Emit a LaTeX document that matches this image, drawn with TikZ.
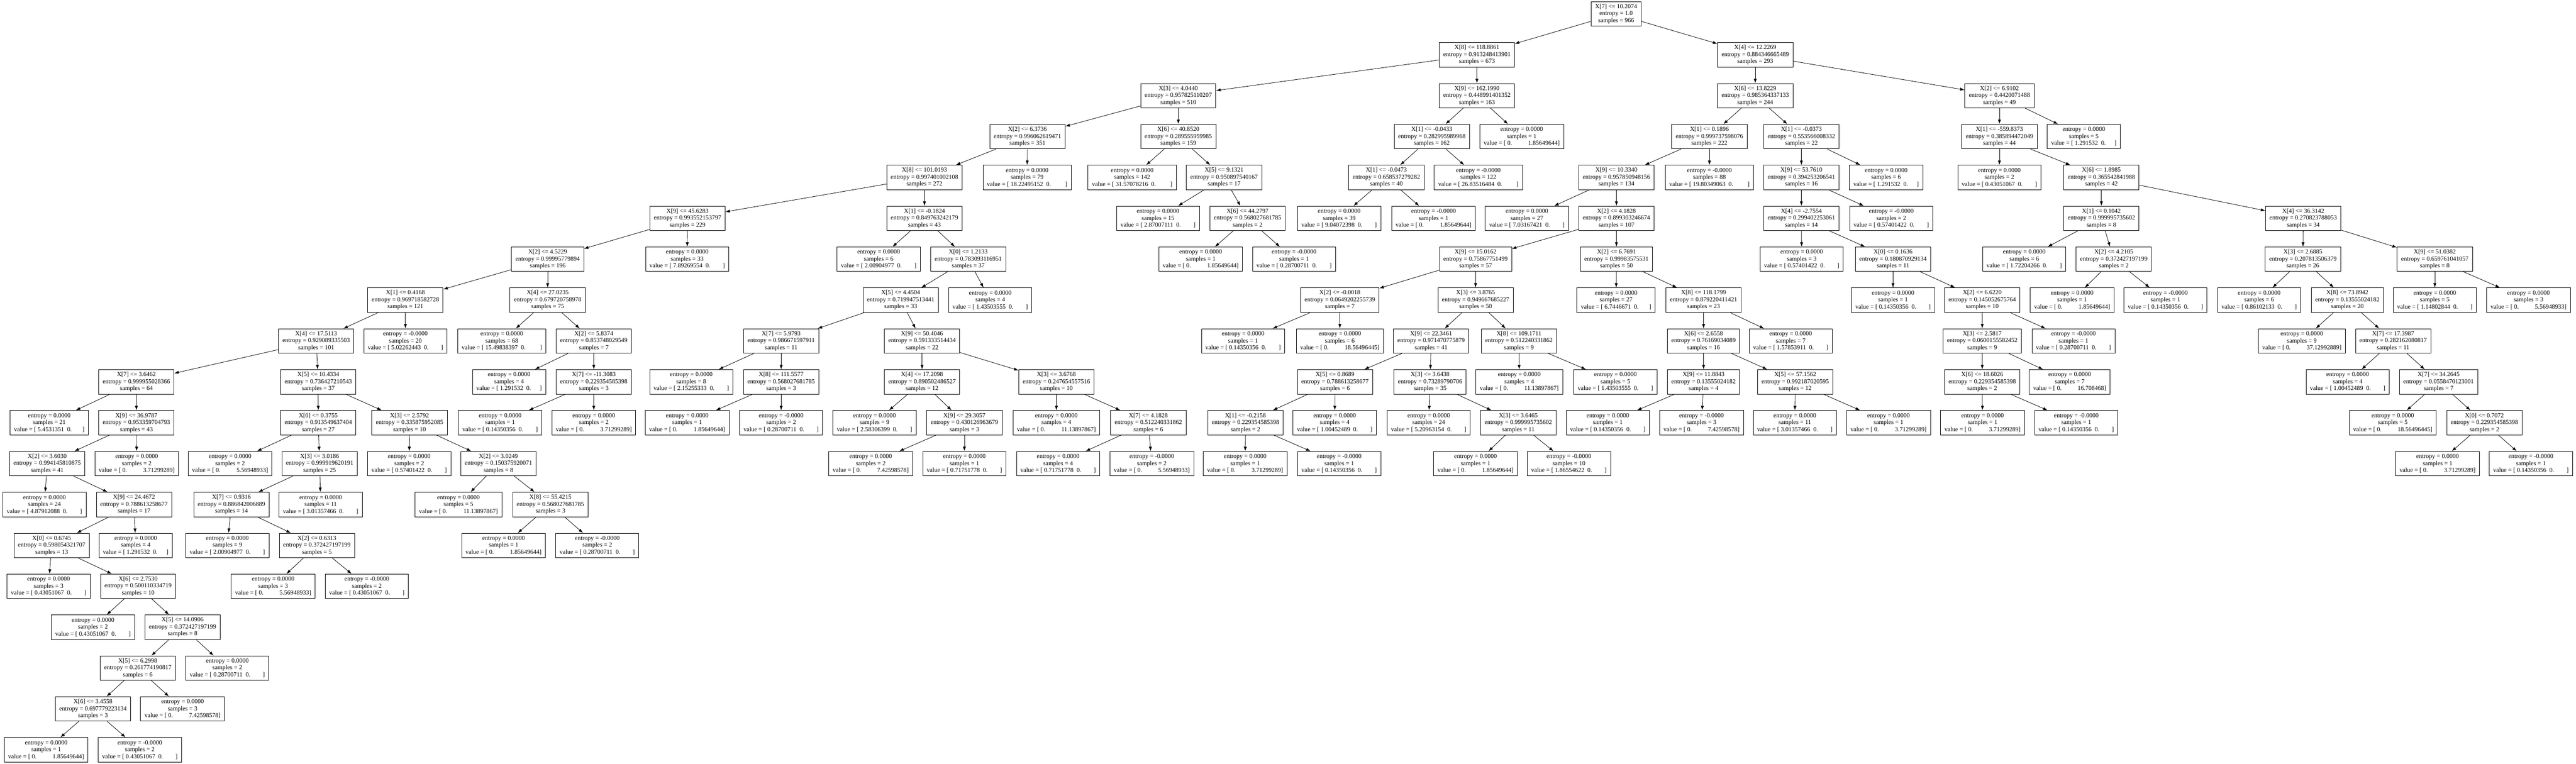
\documentclass[tikz,border=0pt]{standalone}
\usepackage{fontspec}
\setmainfont{Liberation Serif}
\usetikzlibrary{arrows.meta}

\newcommand{\cnd}[3]{#1\\entropy = #2\\samples = #3}
\newcommand{\zleaf}[4][2em]{entropy = #2\\samples = #3\\value = [ #4\hspace{.5em}0.\hspace{#1}]}
\newcommand{\oleaf}[3]{entropy = #1\\samples = #2\\value = [ 0.\hspace{2.6em}#3]}

\begin{document}
\begin{tikzpicture}[x=0.5pt, y=-59.35pt]
\tikzset{ >={Latex[length=6.5pt,width=4.5pt]}, box/.style={draw, line width=0.7pt, align=center, minimum height=35.5pt, inner xsep=5.75pt, inner ysep=0pt, font=\fontsize{9}{10.1}\selectfont}, branch/.style={->, line width=0.6pt} }

\useasboundingbox (0,-0.3412) rectangle (7479,18.336);

% root and left half
\node [box] (n0) at (4692,0) {\cnd{X[7] <= 10.2074}{1.0}{966}};
\node [box] (n1) at (4288,1) {\cnd{X[8] <= 118.8861}{0.913248413901}{673}};
\node [box] (n2) at (3421,2) {\cnd{X[3] <= 4.0440}{0.957825110207}{510}};
\node [box] (n3) at (2983,3) {\cnd{X[2] <= 6.3736}{0.996062619471}{351}};
\node [box] (n4) at (2684,4) {\cnd{X[8] <= 101.0193}{0.997401002108}{272}};
\node [box] (n5) at (1996,5) {\cnd{X[9] <= 45.6283}{0.993552153797}{229}};
\node [box] (n6) at (1590,6) {\cnd{X[2] <= 4.5229}{0.99995779894}{196}};
\node [box] (n7) at (1177,7) {\cnd{X[1] <= 0.4168}{0.969718582728}{121}};
\node [box] (n8) at (918,8) {\cnd{X[4] <= 17.5113}{0.929089335503}{101}};
\node [box] (n9) at (396,9) {\cnd{X[7] <= 3.6462}{0.999955028366}{64}};
\node [box] (n10) at (143,10) {\zleaf[1.7em]{0.0000}{21}{5.4531351}};
\node [box] (n11) at (396,10) {\cnd{X[9] <= 36.9787}{0.953359704793}{43}};
\node [box] (n12) at (137,11) {\cnd{X[2] <= 3.6030}{0.994145810875}{41}};
\node [box] (n13) at (129,12) {\zleaf{0.0000}{24}{4.87912088}};
\node [box] (n14) at (389,12) {\cnd{X[9] <= 24.4672}{0.788613258677}{17}};
\node [box] (n15) at (150,13) {\cnd{X[0] <= 0.6745}{0.598054321707}{13}};
\node [box] (n16) at (141,14) {\zleaf{0.0000}{3}{0.43051067}};
\node [box] (n17) at (401,14) {\cnd{X[6] <= 2.7530}{0.500110334719}{10}};
\node [box] (n18) at (270,15) {\zleaf{0.0000}{2}{0.43051067}};
\node [box] (n19) at (530,15) {\cnd{X[5] <= 14.0906}{0.372427197199}{8}};
\node [box] (n20) at (400,16) {\cnd{X[5] <= 6.2998}{0.261774190817}{6}};
\node [box] (n21) at (270,17) {\cnd{X[6] <= 3.4558}{0.697779223134}{3}};
\node [box] (n22) at (134,18) {\oleaf{0.0000}{1}{1.85649644}};
\node [box] (n23) at (406,18) {\zleaf{-0.0000}{2}{0.43051067}};
\node [box] (n24) at (530,17) {\oleaf{0.0000}{3}{7.42598578}};
\node [box] (n25) at (660,16) {\zleaf{0.0000}{2}{0.28700711}};
\node [box] (n26) at (394,13) {\zleaf[1.4em]{0.0000}{4}{1.291532}};
\node [box] (n27) at (397,11) {\oleaf{0.0000}{2}{3.71299289}};
\node [box] (n28) at (924,9) {\cnd{X[5] <= 10.4334}{0.736427210543}{37}};
\node [box] (n29) at (924,10) {\cnd{X[0] <= 0.3755}{0.913549637404}{27}};
\node [box] (n30) at (668,11) {\oleaf{0.0000}{2}{5.56948933}};
\node [box] (n31) at (928,11) {\cnd{X[3] <= 3.0186}{0.999919620191}{25}};
\node [box] (n32) at (672,12) {\cnd{X[7] <= 0.9316}{0.886842006889}{14}};
\node [box] (n33) at (660,13) {\zleaf{0.0000}{9}{2.00904977}};
\node [box] (n34) at (920,13) {\cnd{X[2] <= 0.6313}{0.372427197199}{5}};
\node [box] (n35) at (793,14) {\oleaf{0.0000}{3}{5.56948933}};
\node [box] (n36) at (1065,14) {\zleaf{-0.0000}{2}{0.43051067}};
\node [box] (n37) at (931,12) {\zleaf{0.0000}{11}{3.01357466}};
\node [box] (n38) at (1189,10) {\cnd{X[3] <= 2.5792}{0.335875952085}{10}};
\node [box] (n39) at (1188,11) {\zleaf{0.0000}{2}{0.57401422}};
\node [box] (n40) at (1447,11) {\cnd{X[2] <= 3.0249}{0.150375920071}{8}};
\node [box] (n41) at (1331,12) {\oleaf{0.0000}{5}{11.13897867}};
\node [box] (n42) at (1598,12) {\cnd{X[8] <= 55.4215}{0.568027681785}{3}};
\node [box] (n43) at (1462,13) {\oleaf{0.0000}{1}{1.85649644}};
\node [box] (n44) at (1734,13) {\zleaf{-0.0000}{2}{0.28700711}};
\node [box] (n45) at (1177,8) {\zleaf{-0.0000}{20}{5.02262443}};
\node [box] (n46) at (1590,7) {\cnd{X[4] <= 27.0235}{0.679720758978}{75}};
\node [box] (n47) at (1457,8) {\zleaf[2.3em]{0.0000}{68}{15.49838397}};
\node [box] (n48) at (1724,8) {\cnd{X[2] <= 5.8374}{0.853748029549}{7}};
\node [box] (n49) at (1478,9) {\zleaf[1.4em]{0.0000}{4}{1.291532}};
\node [box] (n50) at (1724,9) {\cnd{X[7] <= -11.3083}{0.229354585398}{3}};
\node [box] (n51) at (1452,10) {\zleaf{0.0000}{1}{0.14350356}};
\node [box] (n52) at (1724,10) {\oleaf{0.0000}{2}{3.71299289}};
\node [box] (n53) at (1995,6) {\zleaf{0.0000}{33}{7.89269554}};
\node [box] (n54) at (2684,5) {\cnd{X[1] <= -0.1824}{0.849763242179}{43}};
\node [box] (n55) at (2551,6) {\zleaf{0.0000}{6}{2.00904977}};
\node [box] (n56) at (2811,6) {\cnd{X[0] <= 1.2133}{0.783093116951}{37}};
\node [box] (n57) at (2615,7) {\cnd{X[5] <= 4.4504}{0.719947513441}{33}};
\node [box] (n58) at (2268,8) {\cnd{X[7] <= 5.9793}{0.986671597911}{11}};
\node [box] (n59) at (2007,9) {\zleaf{0.0000}{8}{2.15255333}};
\node [box] (n60) at (2268,9) {\cnd{X[8] <= 111.5577}{0.568027681785}{3}};
\node [box] (n61) at (1995,10) {\oleaf{0.0000}{1}{1.85649644}};
\node [box] (n62) at (2268,10) {\zleaf{-0.0000}{2}{0.28700711}};
\node [box] (n63) at (2677,8) {\cnd{X[9] <= 50.4046}{0.591333514434}{22}};
\node [box] (n64) at (2677,9) {\cnd{X[4] <= 17.2098}{0.890502486527}{12}};
\node [box] (n65) at (2539,10) {\zleaf{0.0000}{9}{2.58306399}};
\node [box] (n66) at (2800,10) {\cnd{X[9] <= 29.3057}{0.430126963679}{3}};
\node [box] (n67) at (2528,11) {\oleaf{0.0000}{2}{7.42598578}};
\node [box] (n68) at (2800,11) {\zleaf{0.0000}{1}{0.71751778}};
\node [box] (n69) at (3067,9) {\cnd{X[3] <= 3.6768}{0.247654557516}{10}};
\node [box] (n70) at (3067,10) {\oleaf{0.0000}{4}{11.13897867}};
\node [box] (n71) at (3334,10) {\cnd{X[7] <= 4.1828}{0.512240331862}{6}};
\node [box] (n72) at (3072,11) {\zleaf{0.0000}{4}{0.71751778}};
\node [box] (n73) at (3344,11) {\oleaf{-0.0000}{2}{5.56948933}};
\node [box] (n74) at (2875,7) {\zleaf{0.0000}{4}{1.43503555}};
\node [box] (n75) at (2982,4) {\zleaf[2.3em]{0.0000}{79}{18.22495152}};
\node [box] (n76) at (3421,3) {\cnd{X[6] <= 40.8520}{0.289555959985}{159}};
\node [box] (n77) at (3287,4) {\zleaf[2.3em]{0.0000}{142}{31.57078216}};
\node [box] (n78) at (3554,4) {\cnd{X[5] <= 9.1321}{0.950897540167}{17}};
\node [box] (n79) at (3362,5) {\zleaf{0.0000}{15}{2.87007111}};
\node [box] (n80) at (3622,5) {\cnd{X[6] <= 44.2797}{0.568027681785}{2}};
\node [box] (n81) at (3486,6) {\oleaf{0.0000}{1}{1.85649644}};
\node [box] (n82) at (3757,6) {\zleaf{-0.0000}{1}{0.28700711}};
\node [box] (n83) at (4288,2) {\cnd{X[9] <= 162.1990}{0.448991401352}{163}};
\node [box] (n84) at (4157,3) {\cnd{X[1] <= -0.0433}{0.282995989968}{162}};
\node [box] (n85) at (4025,4) {\cnd{X[1] <= -0.0473}{0.658537279282}{40}};
\node [box] (n86) at (3888,5) {\zleaf{0.0000}{39}{9.04072398}};
\node [box] (n87) at (4162,5) {\oleaf{-0.0000}{1}{1.85649644}};
\node [box] (n88) at (4292,4) {\zleaf[2.3em]{-0.0000}{122}{26.83516484}};
\node [box] (n89) at (4418,3) {\oleaf{0.0000}{1}{1.85649644}};

% right half
\node [box] (n90) at (5096,1) {\cnd{X[4] <= 12.2269}{0.884346665489}{293}};
\node [box] (n91) at (5096,2) {\cnd{X[6] <= 13.8229}{0.985364337133}{244}};
\node [box] (n92) at (4963,3) {\cnd{X[1] <= 0.1896}{0.999737598076}{222}};
\node [box] (n93) at (4693,4) {\cnd{X[9] <= 10.3340}{0.957850948156}{134}};
\node [box] (n94) at (4433,5) {\zleaf{0.0000}{27}{7.03167421}};
\node [box] (n95) at (4693,5) {\cnd{X[2] <= 4.1828}{0.899303246674}{107}};
\node [box] (n96) at (4284,6) {\cnd{X[9] <= 15.0162}{0.75867751499}{57}};
\node [box] (n97) at (3890,7) {\cnd{X[2] <= -0.0018}{0.0649202255739}{7}};
\node [box] (n98) at (3609,8) {\zleaf{0.0000}{1}{0.14350356}};
\node [box] (n99) at (3890,8) {\oleaf{0.0000}{6}{18.56496445}};
\node [box] (n100) at (4284,7) {\cnd{X[3] <= 3.8765}{0.949667685227}{50}};
\node [box] (n101) at (4155,8) {\cnd{X[9] <= 22.3461}{0.971470775879}{41}};
\node [box] (n102) at (3876,9) {\cnd{X[5] <= 0.8689}{0.788613258677}{6}};
\node [box] (n103) at (3616,10) {\cnd{X[1] <= -0.2158}{0.229354585398}{2}};
\node [box] (n104) at (3615,11) {\oleaf{0.0000}{1}{3.71299289}};
\node [box] (n105) at (3888,11) {\zleaf{-0.0000}{1}{0.14350356}};
\node [box] (n106) at (3875,10) {\zleaf{0.0000}{4}{1.00452489}};
\node [box] (n107) at (4152,9) {\cnd{X[3] <= 3.6438}{0.73289790706}{35}};
\node [box] (n108) at (4148,10) {\zleaf{0.0000}{24}{5.20963154}};
\node [box] (n109) at (4408,10) {\cnd{X[3] <= 3.6465}{0.999995735602}{11}};
\node [box] (n110) at (4284,11) {\oleaf{0.0000}{1}{1.85649644}};
\node [box] (n111) at (4555,11) {\zleaf{-0.0000}{10}{1.86554622}};
\node [box] (n112) at (4410,8) {\cnd{X[8] <= 109.1711}{0.512240331862}{9}};
\node [box] (n113) at (4411,9) {\oleaf{0.0000}{4}{11.13897867}};
\node [box] (n114) at (4690,9) {\zleaf{0.0000}{5}{1.43503555}};
\node [box] (n115) at (4693,6) {\cnd{X[2] <= 6.7691}{0.99983575531}{50}};
\node [box] (n116) at (4692,7) {\zleaf[1.7em]{0.0000}{27}{6.7446671}};
\node [box] (n117) at (4946,7) {\cnd{X[8] <= 118.1799}{0.879220411421}{23}};
\node [box] (n118) at (4946,8) {\cnd{X[6] <= 2.6558}{0.76169034089}{16}};
\node [box] (n119) at (4946,9) {\cnd{X[9] <= 11.8843}{0.13555024182}{4}};
\node [box] (n120) at (4668,10) {\zleaf{0.0000}{1}{0.14350356}};
\node [box] (n121) at (4940,10) {\oleaf{-0.0000}{3}{7.42598578}};
\node [box] (n122) at (5212,9) {\cnd{X[5] <= 57.1562}{0.992187020595}{12}};
\node [box] (n123) at (5211,10) {\zleaf{0.0000}{11}{3.01357466}};
\node [box] (n124) at (5483,10) {\oleaf{0.0000}{1}{3.71299289}};
\node [box] (n125) at (5199,8) {\zleaf{0.0000}{7}{1.57853911}};
\node [box] (n126) at (4963,4) {\zleaf[2.3em]{-0.0000}{88}{19.80349063}};
\node [box] (n127) at (5230,3) {\cnd{X[1] <= -0.0373}{0.553566008332}{22}};
\node [box] (n128) at (5230,4) {\cnd{X[9] <= 53.7610}{0.394253206541}{16}};
\node [box] (n129) at (5230,5) {\cnd{X[4] <= -2.7554}{0.299402253061}{14}};
\node [box] (n130) at (5231,6) {\zleaf{0.0000}{3}{0.57401422}};
\node [box] (n131) at (5496,6) {\cnd{X[0] <= 0.1636}{0.180870929134}{11}};
\node [box] (n132) at (5496,7) {\zleaf{0.0000}{1}{0.14350356}};
\node [box] (n133) at (5755,7) {\cnd{X[2] <= 6.6220}{0.145052675764}{10}};
\node [box] (n134) at (5755,8) {\cnd{X[3] <= 2.5817}{0.0600155582452}{9}};
\node [box] (n135) at (5755,9) {\cnd{X[6] <= 18.6026}{0.229354585398}{2}};
\node [box] (n136) at (5756,10) {\oleaf{0.0000}{1}{3.71299289}};
\node [box] (n137) at (6028,10) {\zleaf{-0.0000}{1}{0.14350356}};
\node [box] (n138) at (6009,9) {\oleaf{0.0000}{7}{16.708468}};
\node [box] (n139) at (6020,8) {\zleaf{-0.0000}{1}{0.28700711}};
\node [box] (n140) at (5491,5) {\zleaf{-0.0000}{2}{0.57401422}};
\node [box] (n141) at (5476,4) {\zleaf[1.4em]{0.0000}{6}{1.291532}};
\node [box] (n142) at (5805,2) {\cnd{X[2] <= 6.9102}{0.4420071488}{49}};
\node [box] (n143) at (5805,3) {\cnd{X[1] <= -559.8373}{0.385894472049}{44}};
\node [box] (n144) at (5805,4) {\zleaf{0.0000}{2}{0.43051067}};
\node [box] (n145) at (6101,4) {\cnd{X[6] <= 1.8985}{0.365542841988}{42}};
\node [box] (n146) at (6101,5) {\cnd{X[1] <= 0.1042}{0.999995735602}{8}};
\node [box] (n147) at (5877,6) {\zleaf{0.0000}{6}{1.72204266}};
\node [box] (n148) at (6137,6) {\cnd{X[2] <= 4.2105}{0.372427197199}{2}};
\node [box] (n149) at (6016,7) {\oleaf{0.0000}{1}{1.85649644}};
\node [box] (n150) at (6287,7) {\zleaf{-0.0000}{1}{0.14350356}};
\node [box] (n151) at (6687,5) {\cnd{X[4] <= 36.3142}{0.270823788053}{34}};
\node [box] (n152) at (6686,6) {\cnd{X[3] <= 2.6885}{0.207813506379}{26}};
\node [box] (n153) at (6559,7) {\zleaf{0.0000}{6}{0.86102133}};
\node [box] (n154) at (6815,7) {\cnd{X[8] <= 73.8942}{0.13555024182}{20}};
\node [box] (n155) at (6683,8) {\oleaf{0.0000}{9}{37.12992889}};
\node [box] (n156) at (6948,8) {\cnd{X[7] <= 17.3987}{0.282162080817}{11}};
\node [box] (n157) at (6816,9) {\zleaf{0.0000}{4}{1.00452489}};
\node [box] (n158) at (7080,9) {\cnd{X[7] <= 34.2645}{0.0558470123001}{7}};
\node [box] (n159) at (6947,10) {\oleaf{0.0000}{5}{18.56496445}};
\node [box] (n160) at (7213,10) {\cnd{X[0] <= 0.7072}{0.229354585398}{2}};
\node [box] (n161) at (7077,11) {\oleaf{0.0000}{1}{3.71299289}};
\node [box] (n162) at (7348,11) {\zleaf{-0.0000}{1}{0.14350356}};
\node [box] (n163) at (7069,6) {\cnd{X[9] <= 51.0382}{0.659761041057}{8}};
\node [box] (n164) at (7069,7) {\zleaf{0.0000}{5}{1.14802844}};
\node [box] (n165) at (7341,7) {\oleaf{0.0000}{3}{5.56948933}};
\node [box] (n166) at (6050,3) {\zleaf[1.4em]{0.0000}{5}{1.291532}};

% edges
\draw [branch] (n0) -- (n1);
\draw [branch] (n0) -- (n90);
\draw [branch] (n1) -- (n2);
\draw [branch] (n1) -- (n83);
\draw [branch] (n2) -- (n3);
\draw [branch] (n2) -- (n76);
\draw [branch] (n3) -- (n4);
\draw [branch] (n3) -- (n75);
\draw [branch] (n4) -- (n5);
\draw [branch] (n4) -- (n54);
\draw [branch] (n5) -- (n6);
\draw [branch] (n5) -- (n53);
\draw [branch] (n6) -- (n7);
\draw [branch] (n6) -- (n46);
\draw [branch] (n7) -- (n8);
\draw [branch] (n7) -- (n45);
\draw [branch] (n8) -- (n9);
\draw [branch] (n8) -- (n28);
\draw [branch] (n9) -- (n10);
\draw [branch] (n9) -- (n11);
\draw [branch] (n11) -- (n12);
\draw [branch] (n11) -- (n27);
\draw [branch] (n12) -- (n13);
\draw [branch] (n12) -- (n14);
\draw [branch] (n14) -- (n15);
\draw [branch] (n14) -- (n26);
\draw [branch] (n15) -- (n16);
\draw [branch] (n15) -- (n17);
\draw [branch] (n17) -- (n18);
\draw [branch] (n17) -- (n19);
\draw [branch] (n19) -- (n20);
\draw [branch] (n19) -- (n25);
\draw [branch] (n20) -- (n21);
\draw [branch] (n20) -- (n24);
\draw [branch] (n21) -- (n22);
\draw [branch] (n21) -- (n23);
\draw [branch] (n28) -- (n29);
\draw [branch] (n28) -- (n38);
\draw [branch] (n29) -- (n30);
\draw [branch] (n29) -- (n31);
\draw [branch] (n31) -- (n32);
\draw [branch] (n31) -- (n37);
\draw [branch] (n32) -- (n33);
\draw [branch] (n32) -- (n34);
\draw [branch] (n34) -- (n35);
\draw [branch] (n34) -- (n36);
\draw [branch] (n38) -- (n39);
\draw [branch] (n38) -- (n40);
\draw [branch] (n40) -- (n41);
\draw [branch] (n40) -- (n42);
\draw [branch] (n42) -- (n43);
\draw [branch] (n42) -- (n44);
\draw [branch] (n46) -- (n47);
\draw [branch] (n46) -- (n48);
\draw [branch] (n48) -- (n49);
\draw [branch] (n48) -- (n50);
\draw [branch] (n50) -- (n51);
\draw [branch] (n50) -- (n52);
\draw [branch] (n54) -- (n55);
\draw [branch] (n54) -- (n56);
\draw [branch] (n56) -- (n57);
\draw [branch] (n56) -- (n74);
\draw [branch] (n57) -- (n58);
\draw [branch] (n57) -- (n63);
\draw [branch] (n58) -- (n59);
\draw [branch] (n58) -- (n60);
\draw [branch] (n60) -- (n61);
\draw [branch] (n60) -- (n62);
\draw [branch] (n63) -- (n64);
\draw [branch] (n63) -- (n69);
\draw [branch] (n64) -- (n65);
\draw [branch] (n64) -- (n66);
\draw [branch] (n66) -- (n67);
\draw [branch] (n66) -- (n68);
\draw [branch] (n69) -- (n70);
\draw [branch] (n69) -- (n71);
\draw [branch] (n71) -- (n72);
\draw [branch] (n71) -- (n73);
\draw [branch] (n76) -- (n77);
\draw [branch] (n76) -- (n78);
\draw [branch] (n78) -- (n79);
\draw [branch] (n78) -- (n80);
\draw [branch] (n80) -- (n81);
\draw [branch] (n80) -- (n82);
\draw [branch] (n83) -- (n84);
\draw [branch] (n83) -- (n89);
\draw [branch] (n84) -- (n85);
\draw [branch] (n84) -- (n88);
\draw [branch] (n85) -- (n86);
\draw [branch] (n85) -- (n87);
\draw [branch] (n90) -- (n91);
\draw [branch] (n90) -- (n142);
\draw [branch] (n91) -- (n92);
\draw [branch] (n91) -- (n127);
\draw [branch] (n92) -- (n93);
\draw [branch] (n92) -- (n126);
\draw [branch] (n93) -- (n94);
\draw [branch] (n93) -- (n95);
\draw [branch] (n95) -- (n96);
\draw [branch] (n95) -- (n115);
\draw [branch] (n96) -- (n97);
\draw [branch] (n96) -- (n100);
\draw [branch] (n97) -- (n98);
\draw [branch] (n97) -- (n99);
\draw [branch] (n100) -- (n101);
\draw [branch] (n100) -- (n112);
\draw [branch] (n101) -- (n102);
\draw [branch] (n101) -- (n107);
\draw [branch] (n102) -- (n103);
\draw [branch] (n102) -- (n106);
\draw [branch] (n103) -- (n104);
\draw [branch] (n103) -- (n105);
\draw [branch] (n107) -- (n108);
\draw [branch] (n107) -- (n109);
\draw [branch] (n109) -- (n110);
\draw [branch] (n109) -- (n111);
\draw [branch] (n112) -- (n113);
\draw [branch] (n112) -- (n114);
\draw [branch] (n115) -- (n116);
\draw [branch] (n115) -- (n117);
\draw [branch] (n117) -- (n118);
\draw [branch] (n117) -- (n125);
\draw [branch] (n118) -- (n119);
\draw [branch] (n118) -- (n122);
\draw [branch] (n119) -- (n120);
\draw [branch] (n119) -- (n121);
\draw [branch] (n122) -- (n123);
\draw [branch] (n122) -- (n124);
\draw [branch] (n127) -- (n128);
\draw [branch] (n127) -- (n141);
\draw [branch] (n128) -- (n129);
\draw [branch] (n128) -- (n140);
\draw [branch] (n129) -- (n130);
\draw [branch] (n129) -- (n131);
\draw [branch] (n131) -- (n132);
\draw [branch] (n131) -- (n133);
\draw [branch] (n133) -- (n134);
\draw [branch] (n133) -- (n139);
\draw [branch] (n134) -- (n135);
\draw [branch] (n134) -- (n138);
\draw [branch] (n135) -- (n136);
\draw [branch] (n135) -- (n137);
\draw [branch] (n142) -- (n143);
\draw [branch] (n142) -- (n166);
\draw [branch] (n143) -- (n144);
\draw [branch] (n143) -- (n145);
\draw [branch] (n145) -- (n146);
\draw [branch] (n145) -- (n151);
\draw [branch] (n146) -- (n147);
\draw [branch] (n146) -- (n148);
\draw [branch] (n148) -- (n149);
\draw [branch] (n148) -- (n150);
\draw [branch] (n151) -- (n152);
\draw [branch] (n151) -- (n163);
\draw [branch] (n152) -- (n153);
\draw [branch] (n152) -- (n154);
\draw [branch] (n154) -- (n155);
\draw [branch] (n154) -- (n156);
\draw [branch] (n156) -- (n157);
\draw [branch] (n156) -- (n158);
\draw [branch] (n158) -- (n159);
\draw [branch] (n158) -- (n160);
\draw [branch] (n160) -- (n161);
\draw [branch] (n160) -- (n162);
\draw [branch] (n163) -- (n164);
\draw [branch] (n163) -- (n165);

\end{tikzpicture}
\end{document}
